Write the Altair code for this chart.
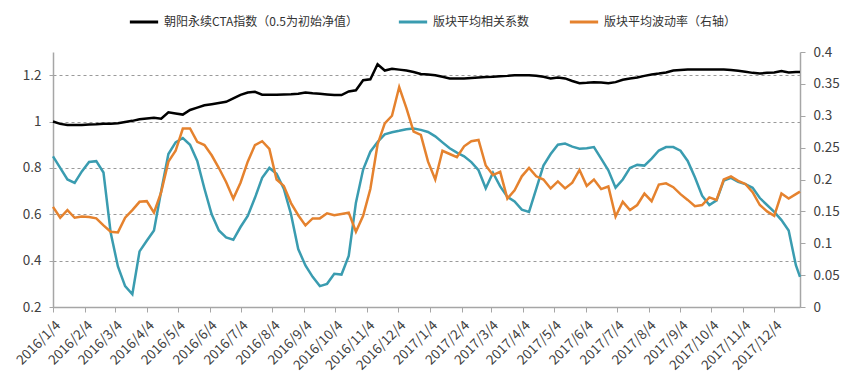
import altair as alt
import pandas as pd

# weekly sampling grid (Mondays) plus last trading day
dates = [d.strftime("%Y-%m-%d") for d in pd.date_range("2016-01-04", periods=104, freq="7D")] + ["2017-12-29"]

names = ["朝阳永续CTA指数（0.5为初始净值）", "版块平均相关系数", "版块平均波动率（右轴）"]
colors = ["#000000", "#3A9CB0", "#E5822E"]

cta_nav = [
    1.0, 0.99, 0.985, 0.985, 0.985, 0.987, 0.988, 0.99, 0.99, 0.993,
    0.998, 1.003, 1.01, 1.013, 1.016, 1.012, 1.04, 1.035, 1.03, 1.05,
    1.06, 1.07, 1.075, 1.08, 1.085, 1.1, 1.115, 1.125, 1.128, 1.116,
    1.116, 1.116, 1.117, 1.118, 1.12, 1.125, 1.122, 1.12, 1.117, 1.114,
    1.114, 1.13, 1.135, 1.178, 1.182, 1.247, 1.22, 1.228, 1.224, 1.22,
    1.214, 1.205, 1.203, 1.2, 1.193, 1.186, 1.186, 1.186, 1.188, 1.19,
    1.192, 1.193, 1.195, 1.197, 1.2, 1.2, 1.2, 1.198, 1.193, 1.186,
    1.19, 1.186, 1.175, 1.165, 1.167, 1.17, 1.168, 1.165, 1.17, 1.18,
    1.186, 1.19, 1.197, 1.203, 1.207, 1.212, 1.22, 1.222, 1.224, 1.225,
    1.225, 1.225, 1.225, 1.224, 1.222, 1.219, 1.215, 1.21, 1.207, 1.21,
    1.212, 1.218, 1.212, 1.214, 1.214,
]

avg_corr = [
    0.85, 0.8, 0.75, 0.735, 0.785, 0.826, 0.829, 0.78, 0.52, 0.375,
    0.29, 0.255, 0.44, 0.486, 0.53, 0.7, 0.86, 0.91, 0.929, 0.9,
    0.83, 0.71, 0.6, 0.53, 0.5, 0.49, 0.545, 0.593, 0.671, 0.757,
    0.8, 0.775, 0.71, 0.6, 0.45, 0.379, 0.33, 0.29, 0.3, 0.343,
    0.34, 0.42, 0.65, 0.793, 0.87, 0.912, 0.945, 0.954, 0.96, 0.967,
    0.97, 0.964, 0.955, 0.936, 0.91, 0.885, 0.866, 0.85, 0.825, 0.79,
    0.712, 0.779, 0.72, 0.675, 0.655, 0.62, 0.61, 0.71, 0.81, 0.86,
    0.9, 0.905, 0.892, 0.883, 0.885, 0.89, 0.84, 0.79, 0.715, 0.75,
    0.8, 0.813, 0.81, 0.84, 0.875, 0.89, 0.89, 0.874, 0.83, 0.76,
    0.68, 0.64, 0.66, 0.745, 0.757, 0.74, 0.73, 0.714, 0.67, 0.64,
    0.61, 0.575, 0.53, 0.38, 0.33,
]

avg_vol = [
    0.157, 0.14, 0.152, 0.14, 0.142, 0.141, 0.139, 0.128, 0.118, 0.117,
    0.14, 0.152, 0.165, 0.166, 0.148, 0.18, 0.228, 0.245, 0.28, 0.28,
    0.259, 0.254, 0.238, 0.218, 0.196, 0.17, 0.195, 0.228, 0.254, 0.26,
    0.248, 0.2, 0.19, 0.163, 0.144, 0.128, 0.139, 0.139, 0.147, 0.144,
    0.146, 0.148, 0.118, 0.143, 0.185, 0.255, 0.288, 0.3, 0.345, 0.312,
    0.275, 0.27, 0.228, 0.2, 0.245, 0.24, 0.235, 0.252, 0.26, 0.262,
    0.222, 0.207, 0.212, 0.17, 0.183, 0.205, 0.218, 0.205, 0.2, 0.186,
    0.197, 0.186, 0.195, 0.215, 0.19, 0.2, 0.185, 0.189, 0.142, 0.165,
    0.152, 0.16, 0.178, 0.166, 0.192, 0.194, 0.188, 0.177, 0.168, 0.158,
    0.16, 0.172, 0.168, 0.2, 0.205, 0.198, 0.193, 0.18, 0.16, 0.15,
    0.143, 0.178, 0.17, 0.177, 0.181,
]

tick_months = [(2016, m) for m in range(1, 13)] + [(2017, m) for m in range(1, 13)]
left_ticks = [0.2, 0.4, 0.6, 0.8, 1.0, 1.2]
right_ticks = [0, 0.05, 0.1, 0.15, 0.2, 0.25, 0.3, 0.35, 0.4]

rows = []
for s, vals in zip(names, [cta_nav, avg_corr, avg_vol]):
    for d, v in zip(dates, vals):
        rows.append({"date": d, "series": s, "value": v})
df = pd.DataFrame(rows)

FONT = "Noto Sans CJK SC"
GREY = "#A6A6A6"
TXT = "#595959"

x_enc = alt.X(
    "date:T",
    title=None,
    scale=alt.Scale(
        type="utc",
        domain=[alt.DateTime(year=2016, month=1, date=4, utc=True),
                alt.DateTime(year=2017, month=12, date=29, utc=True)],
    ),
    axis=alt.Axis(
        values=[alt.DateTime(year=y, month=m, date=4, utc=True) for y, m in tick_months],
        format="%Y/%-m/%-d",
        labelAngle=-45,
        labelFontSize=13.5,
        labelColor="#404040",
        labelFont=FONT,
        labelPadding=6,
        tickSize=5,
        tickColor=GREY,
        domainColor=GREY,
        domainWidth=1.5,
        grid=False,
        labelOverlap=False,
    ),
)

color_enc = alt.Color(
    "series:N",
    scale=alt.Scale(domain=names, range=colors),
    legend=alt.Legend(
        title=None,
        orient="none",
        direction="horizontal",
        legendX=75,
        legendY=-46,
        symbolType="stroke",
        symbolSize=800,
        symbolStrokeWidth=3,
        labelFontSize=12,
        labelFont=FONT,
        labelColor="#333333",
        labelLimit=400,
        columnPadding=33,
        labelOffset=4,
    ),
)

base = alt.Chart(df)

left = base.transform_filter(
    alt.FieldOneOfPredicate(field="series", oneOf=names[:2])
).mark_line(strokeWidth=2.5).encode(
    x=x_enc,
    y=alt.Y(
        "value:Q",
        title=None,
        scale=alt.Scale(domain=[0.2, 1.3], nice=False, zero=False),
        axis=alt.Axis(
            values=left_ticks,
            format="~g",
            orient="left",
            labelFontSize=13.5,
            labelColor="#404040",
            labelFont=FONT,
            labelPadding=8,
            tickSize=4,
            tickColor=GREY,
            domainColor=GREY,
            domainWidth=1.5,
            grid=True,
            gridDash=[3, 3],
            gridColor="#9A9A9A",
            gridWidth=1,
        ),
    ),
    color=color_enc,
)

right = base.transform_filter(
    alt.FieldEqualPredicate(field="series", equal=names[2])
).mark_line(strokeWidth=2.5).encode(
    x=x_enc,
    y=alt.Y(
        "value:Q",
        title=None,
        scale=alt.Scale(domain=[0, 0.4], nice=False),
        axis=alt.Axis(
            values=right_ticks,
            format="~g",
            orient="right",
            labelFontSize=13.5,
            labelColor="#404040",
            labelFont=FONT,
            labelPadding=8,
            tickSize=5,
            tickColor=GREY,
            domainColor=GREY,
            domainWidth=1.5,
            grid=False,
        ),
    ),
    color=color_enc,
)

chart = alt.layer(left, right).resolve_scale(y="independent").properties(
    width=747,
    height=255,
    padding={"left": 45, "top": 44, "right": 40, "bottom": 71},
    autosize=alt.AutoSizeParams(type="none"),
    background="white",
).configure_view(stroke=None)

chart.save("out.html", embed_options={"renderer": "svg", "actions": False})
